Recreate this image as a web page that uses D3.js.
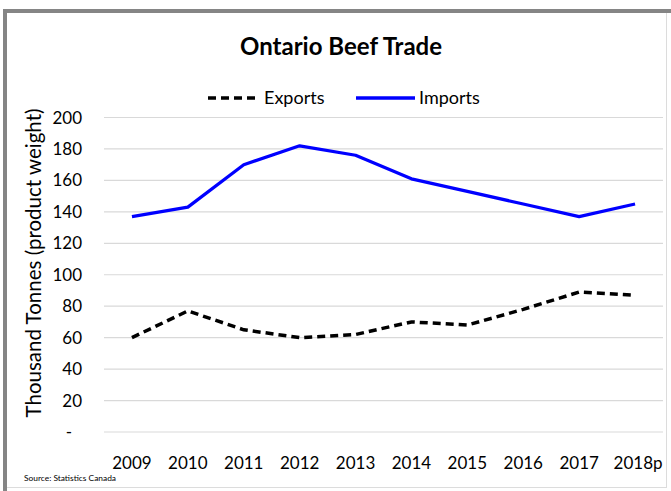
<!DOCTYPE html>
<html>
<head>
<meta charset="utf-8">
<script src="https://cdn.jsdelivr.net/npm/d3@7"></script>
<style>
  body { margin: 0; background: #fff; }
  text { font-family: Lato, "Open Sans", sans-serif; fill: #000; }
</style>
</head>
<body>
<svg id="chart" width="671" height="491"></svg>
<script>
// Chart data
var years = ["2009", "2010", "2011", "2012", "2013", "2014", "2015", "2016", "2017", "2018p"];
var exportsData = [60, 77, 65, 60, 62, 70, 68, 78, 89, 87];
var importsData = [137, 143, 170, 182, 176, 161, 153, 145, 137, 145];
var yTicks = [0, 20, 40, 60, 80, 100, 120, 140, 160, 180, 200];

var svg = d3.select("#chart");

// frame (dark left/top, light right/bottom)
svg.append("line").attr("x1", 5).attr("y1", 11).attr("x2", 5).attr("y2", 491)
  .attr("stroke", "#858585").attr("stroke-width", 4);
svg.append("line").attr("x1", 3).attr("y1", 11).attr("x2", 671).attr("y2", 11)
  .attr("stroke", "#858585").attr("stroke-width", 4);
svg.append("line").attr("x1", 666.5).attr("y1", 13).attr("x2", 666.5).attr("y2", 488)
  .attr("stroke", "#dcdcdc").attr("stroke-width", 1);
svg.append("line").attr("x1", 7).attr("y1", 487.5).attr("x2", 667).attr("y2", 487.5)
  .attr("stroke", "#dcdcdc").attr("stroke-width", 1);

var x = d3.scaleBand().domain(years).range([104, 663]);
var y = d3.scaleLinear().domain([0, 200]).range([432, 117.5]);

// gridlines
svg.append("g").selectAll("line").data(yTicks).enter().append("line")
  .attr("x1", 104).attr("x2", 663)
  .attr("y1", function(d) { return y(d); })
  .attr("y2", function(d) { return y(d); })
  .attr("stroke", "#d9d9d9").attr("stroke-width", 1.2);

// y tick labels
svg.append("g").selectAll("text").data(yTicks).enter().append("text")
  .attr("x", function(d) { return d === 0 ? 72 : 82; })
  .attr("y", function(d) { return y(d) + 6; })
  .attr("text-anchor", "end")
  .style("font-size", "17px")
  .text(function(d) { return d === 0 ? "-" : d; });

// x tick labels
svg.append("g").selectAll("text").data(years).enter().append("text")
  .attr("x", function(d) { return x(d) + x.bandwidth() / 2 + (d === "2018p" ? 3 : 0); })
  .attr("y", 469)
  .attr("text-anchor", "middle")
  .style("font-size", "17px")
  .text(function(d) { return d; });

// y axis title
svg.append("text")
  .attr("transform", "translate(41,263) rotate(-90)")
  .attr("text-anchor", "middle")
  .style("font-size", "20.5px")
  .text("Thousand Tonnes (product weight)");

// title
svg.append("text")
  .attr("x", 341).attr("y", 55)
  .attr("text-anchor", "middle")
  .style("font-size", "24px").style("font-weight", "bold")
  .text("Ontario Beef Trade");

// source
svg.append("text")
  .attr("x", 24).attr("y", 481)
  .style("font-size", "8.4px")
  .text("Source: Statistics Canada");

var line = d3.line()
  .x(function(d, i) { return x(years[i]) + x.bandwidth() / 2; })
  .y(function(d) { return y(d); });

svg.append("path").datum(importsData)
  .attr("d", line).attr("fill", "none")
  .attr("stroke", "#0000ff").attr("stroke-width", 3.2)
  .attr("stroke-linejoin", "round");

svg.append("path").datum(exportsData)
  .attr("d", line).attr("fill", "none")
  .attr("stroke", "#000").attr("stroke-width", 3.5)
  .attr("stroke-dasharray", "8,5");

// legend
var legend = svg.append("g");
legend.append("line").attr("x1", 208).attr("x2", 260).attr("y1", 98).attr("y2", 98)
  .attr("stroke", "#000").attr("stroke-width", 3.5).attr("stroke-dasharray", "8,5");
legend.append("text").attr("x", 264).attr("y", 104).style("font-size", "18px").text("Exports");
legend.append("line").attr("x1", 356).attr("x2", 415).attr("y1", 98).attr("y2", 98)
  .attr("stroke", "#0000ff").attr("stroke-width", 3.5);
legend.append("text").attr("x", 419).attr("y", 104).style("font-size", "18px").text("Imports");
</script>
</body>
</html>
